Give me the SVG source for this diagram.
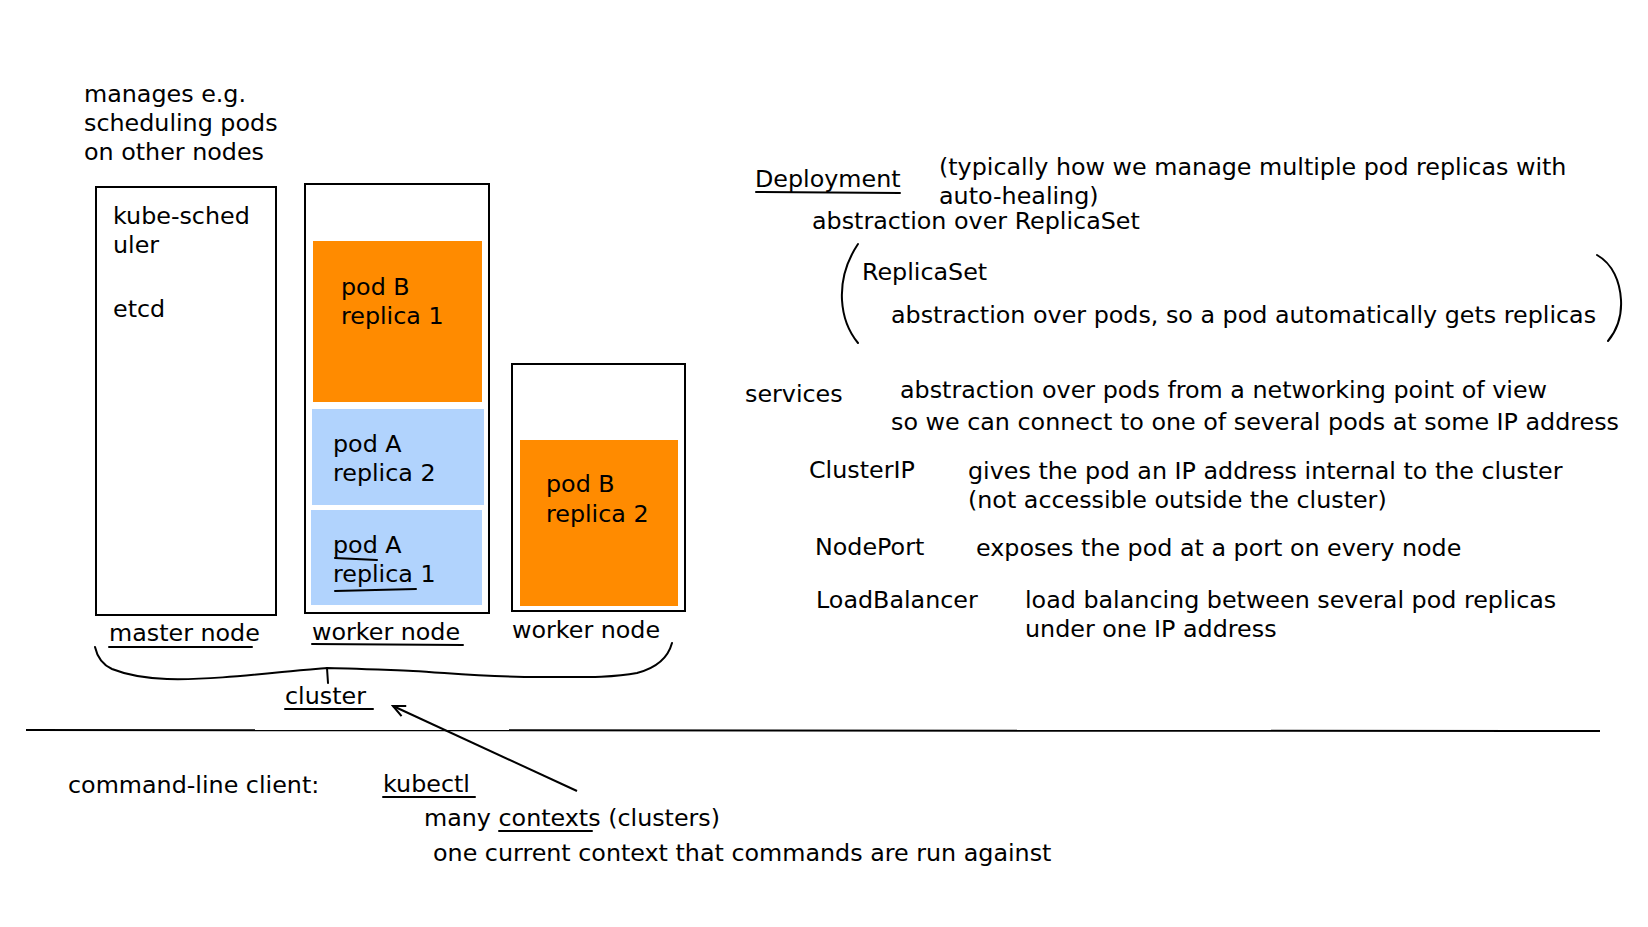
<svg xmlns="http://www.w3.org/2000/svg" width="1648" height="927" viewBox="0 0 1648 927">
<style>
text{font-family:"DejaVu Sans",Verdana,sans-serif;font-size:23.8px;fill:#000}
.box{fill:#fff;stroke:#000;stroke-width:2}
.orange{fill:#ff8b00}
.blue{fill:#b1d3fd}
.ink{fill:none;stroke:#000;stroke-width:2;stroke-linecap:round;stroke-linejoin:round}
</style>
<defs>
<marker id="arr" viewBox="0 0 20 20" refX="18" refY="10" markerWidth="16" markerHeight="16" markerUnits="userSpaceOnUse" orient="auto">
<path d="M3 3 L18 10 L3 17" fill="none" stroke="#000" stroke-width="2.6" stroke-linejoin="miter"/>
</marker>
</defs>
<rect width="1648" height="927" fill="#fff"/>

<g id="master-note">
<text x="84" y="102">manages e.g.</text>
<text x="84" y="131">scheduling pods</text>
<text x="84" y="160">on other nodes</text>
</g>

<g id="master-node">
<rect class="box" x="96" y="187" width="180" height="428"/>
<text x="113" y="224">kube-sched</text>
<text x="113" y="253">uler</text>
<text x="113" y="317">etcd</text>
<text x="109" y="641">master node</text>
<path class="ink" d="M109 647 L252 647"/>
</g>

<g id="worker-node-1">
<rect class="box" x="305" y="184" width="184" height="429"/>
<text x="312" y="640">worker node</text>
<path class="ink" d="M312 644 L463 645"/>
</g>
<g id="pod-b-replica-1">
<rect class="orange" x="313" y="241" width="169" height="161"/>
<text x="341" y="295">pod B</text>
<text x="341" y="324">replica 1</text>
</g>
<g id="pod-a-replica-2">
<rect class="blue" x="312" y="409" width="172" height="96"/>
<text x="333" y="452">pod A</text>
<text x="333" y="481">replica 2</text>
</g>
<g id="pod-a-replica-1">
<rect class="blue" x="311" y="510" width="171" height="95"/>
<text x="333" y="553">pod A</text>
<text x="333" y="582">replica 1</text>
<path class="ink" d="M335 558 L377 560"/>
<path class="ink" d="M335 591 L416 589"/>
</g>

<g id="worker-node-2">
<rect class="box" x="512" y="364" width="173" height="247"/>
<text x="512" y="638">worker node</text>
</g>
<g id="pod-b-replica-2">
<rect class="orange" x="520" y="440" width="158" height="166"/>
<text x="546" y="492">pod B</text>
<text x="546" y="522">replica 2</text>
</g>

<g id="cluster">
<path class="ink" d="M95 647 C97 656 101 664 112 669 C127 675 142 678 167 679 C202 680 242 676 282 672 C302 670 315 669 327 668 C339 668 362 669 413 671 C450 673 482 677 540 677 C580 677 612 678 637 673 C656 668 668 658 672 643"/>
<path class="ink" d="M327 668 L328 683"/>
<text x="285" y="704">cluster</text>
<path class="ink" d="M285 709 L373 709"/>
</g>

<g id="separator">
<path d="M26 730 L1600 731" fill="none" stroke="#000" stroke-width="2"/>
</g>

<g id="deployment">
<text x="755" y="187">Deployment</text>
<path class="ink" d="M756 192 L900 193"/>
<text x="939" y="175">(typically how we manage multiple pod replicas with</text>
<text x="939" y="204">auto-healing)</text>
<text x="812" y="229">abstraction over ReplicaSet</text>
</g>

<g id="replicaset">
<path class="ink" d="M858 244 C846 262 841 282 842 300 C843 318 849 332 858 343"/>
<text x="862" y="280">ReplicaSet</text>
<text x="891" y="323">abstraction over pods, so a pod automatically gets replicas</text>
<path class="ink" d="M1597 255 C1613 264 1620 282 1621 300 C1622 318 1617 330 1608 341"/>
</g>

<g id="services">
<text x="745" y="402">services</text>
<text x="900" y="398">abstraction over pods from a networking point of view</text>
<text x="891" y="430">so we can connect to one of several pods at some IP address</text>
</g>
<g id="clusterip">
<text x="809" y="478">ClusterIP</text>
<text x="968" y="479">gives the pod an IP address internal to the cluster</text>
<text x="968" y="508">(not accessible outside the cluster)</text>
</g>
<g id="nodeport">
<text x="815" y="555">NodePort</text>
<text x="976" y="556">exposes the pod at a port on every node</text>
</g>
<g id="loadbalancer">
<text x="816" y="608">LoadBalancer</text>
<text x="1025" y="608">load balancing between several pod replicas</text>
<text x="1025" y="637">under one IP address</text>
</g>

<g id="kubectl">
<text x="68" y="793">command-line client:</text>
<text x="383" y="792">kubectl</text>
<path class="ink" d="M383 797 L475 797"/>
<text x="424" y="826">many contexts (clusters)</text>
<path class="ink" d="M499 831 L592 831"/>
<text x="433" y="861">one current context that commands are run against</text>
</g>

<g id="connectors">
<path d="M577 791 L393 706" fill="none" stroke="#000" stroke-width="2" marker-end="url(#arr)"/>
</g>
</svg>
